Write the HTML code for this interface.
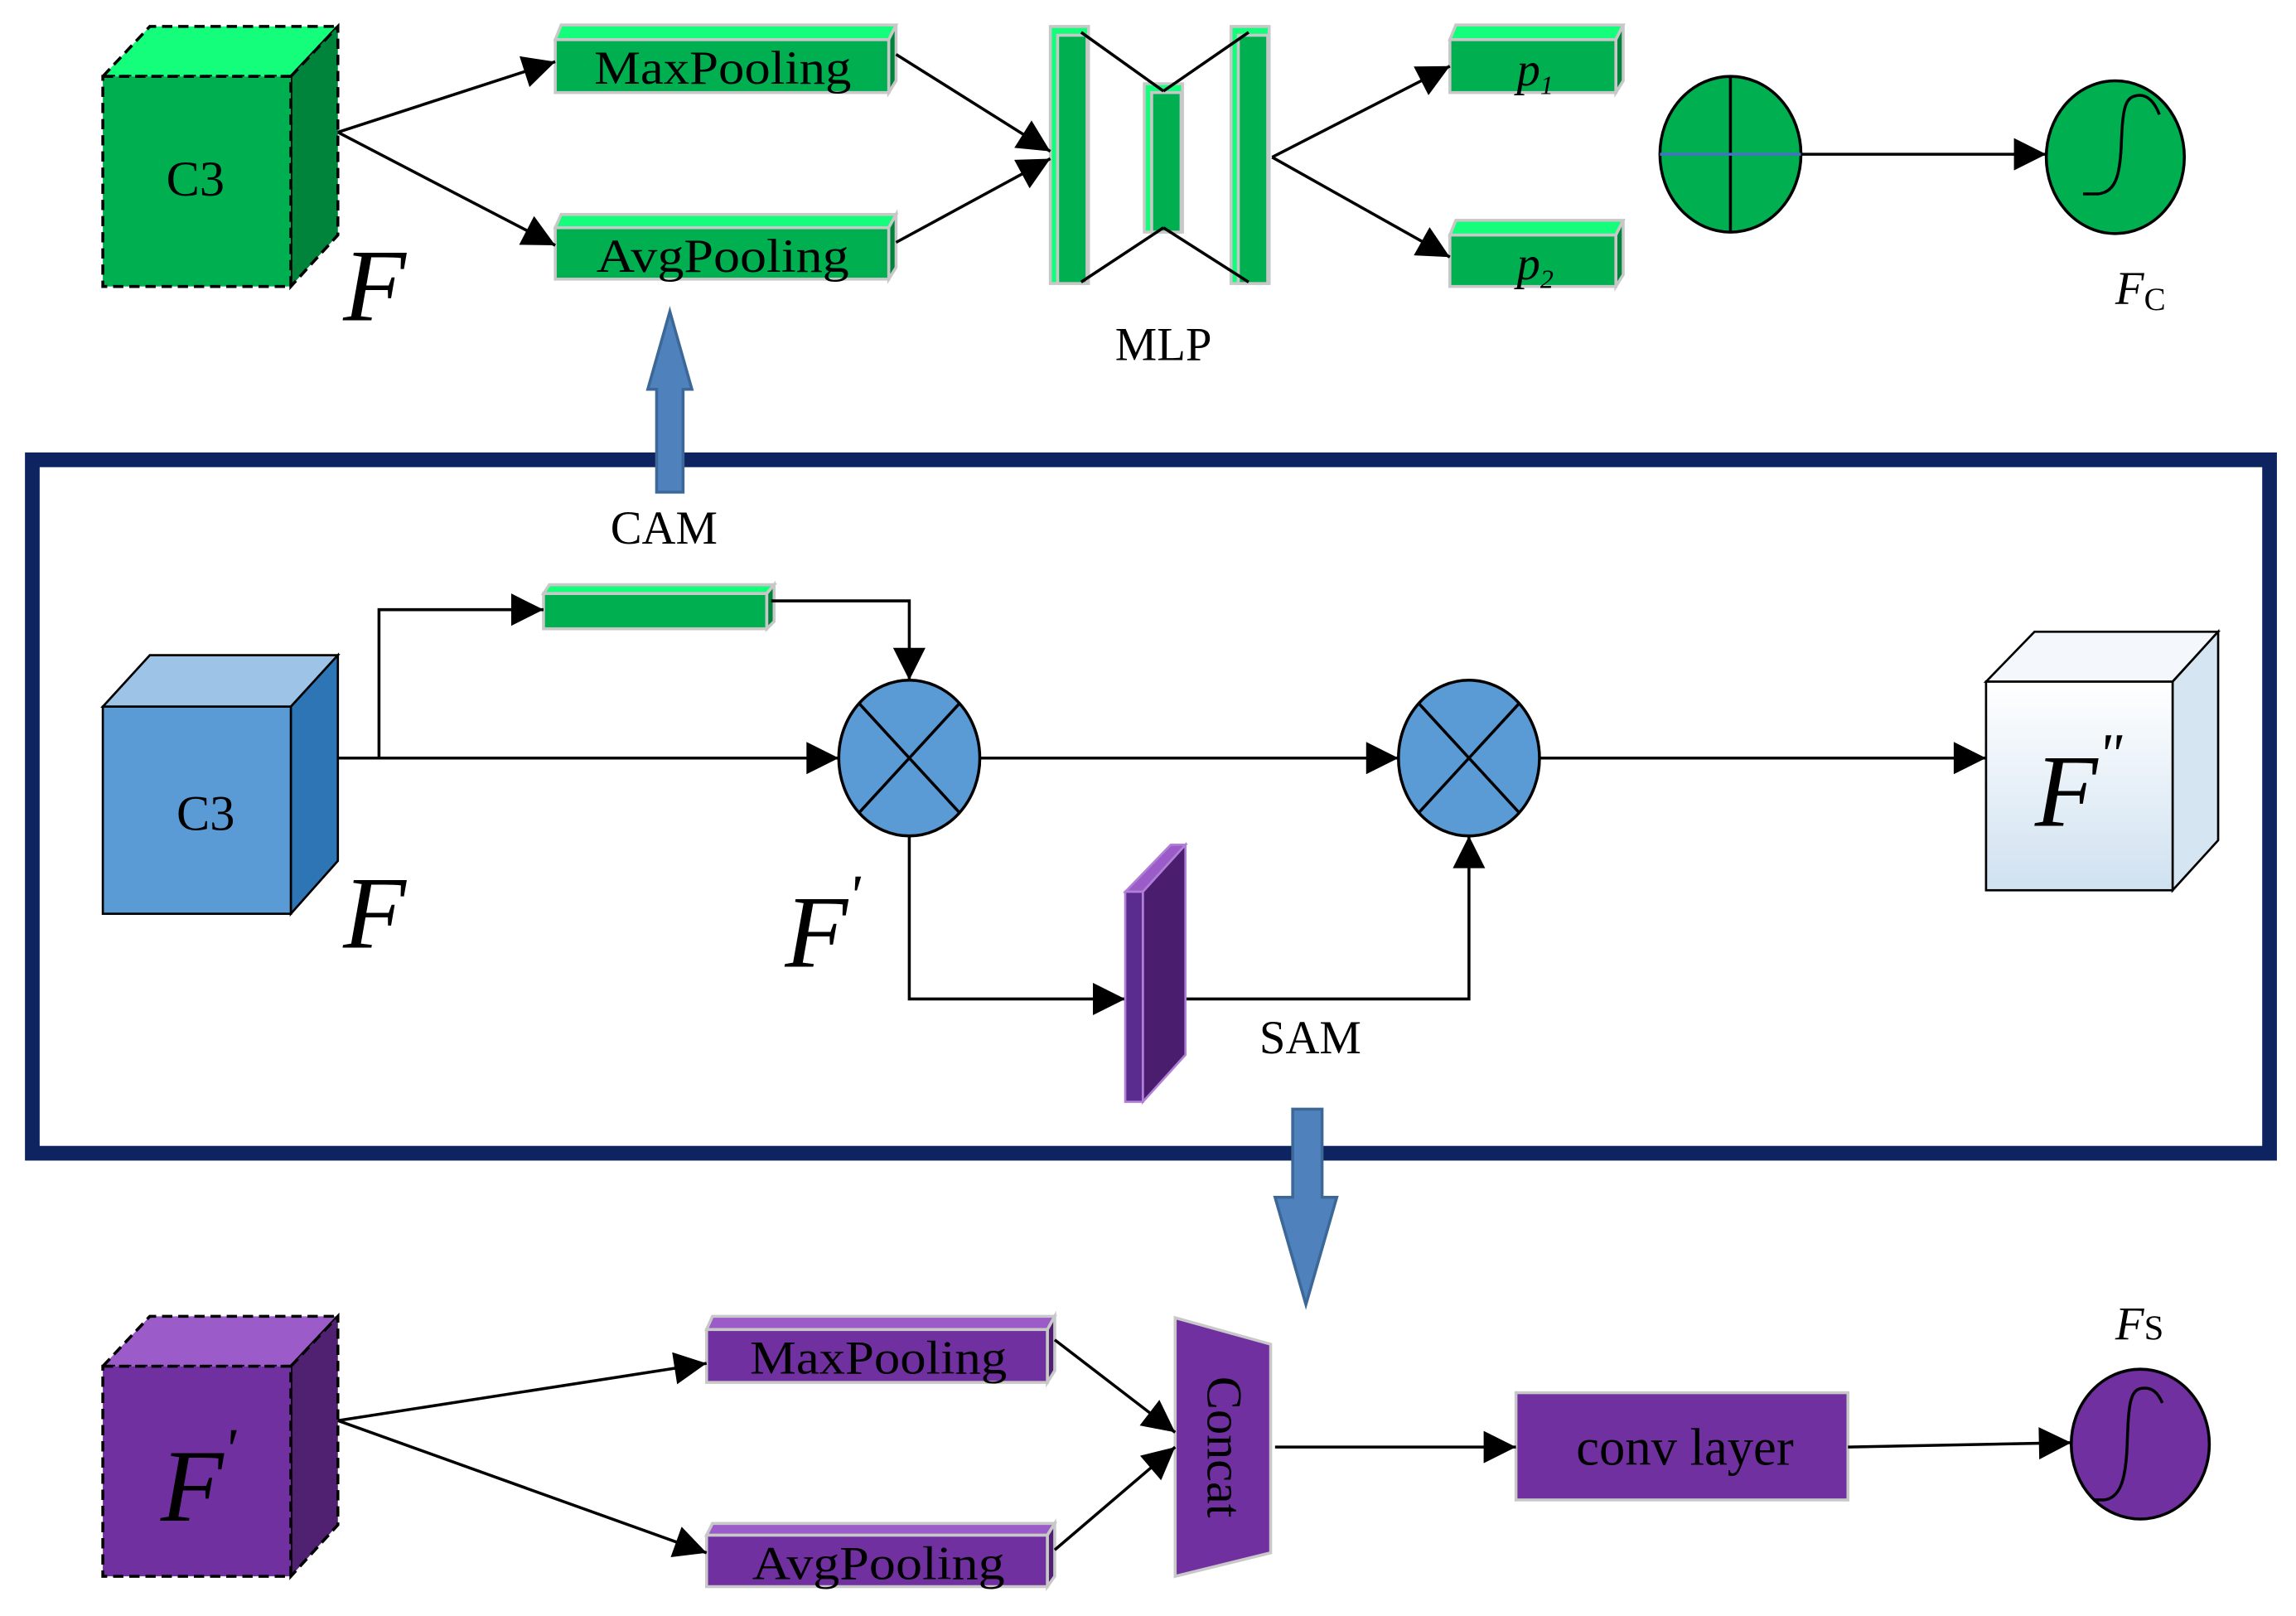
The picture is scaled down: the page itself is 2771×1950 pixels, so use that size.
<!DOCTYPE html>
<html><head><meta charset="utf-8"><style>html,body{margin:0;padding:0;background:#fff}svg{display:block}</style></head><body>
<svg width="2771" height="1950" viewBox="0 0 1563 1100" preserveAspectRatio="none" xmlns="http://www.w3.org/2000/svg" font-family="Liberation Serif, serif">
<defs>
<marker id="ab" viewBox="0 0 10 10" refX="10" refY="5" markerWidth="30" markerHeight="22" markerUnits="userSpaceOnUse" orient="auto"><path d="M0,0L10,5L0,10z" fill="#000"/></marker>
<linearGradient id="gw" x1="0" y1="0" x2="0" y2="1"><stop offset="0" stop-color="#fff"/><stop offset="1" stop-color="#cfe1f0"/></linearGradient>
</defs>
<g stroke="#000" stroke-width="2" fill="none">
<polygon points="70,52 102,18 230,18 198,52" fill="#14fd7b" stroke-dasharray="7,4"/>
<polygon points="198,52 230,18 230,160 198,195" fill="#00843c" stroke-dasharray="7,4"/>
<rect x="70" y="52" width="128" height="143" fill="#00b050" stroke-dasharray="7,4"/>
</g>
<text x="133" y="133" font-size="34" text-anchor="middle">C3</text>
<text x="255" y="218" font-size="70" font-style="italic" text-anchor="middle">F</text>
<g stroke="#c8c8c8" stroke-width="2">
<polygon points="378,27 382,17 610,17 605,27" fill="#14fd7b"/><polygon points="605,27 610,17 610,55 605,63" fill="#00843c"/><rect x="378" y="27" width="227" height="36" fill="#00b050"/>
<polygon points="378,155 382,146 610,146 605,155" fill="#14fd7b"/><polygon points="605,155 610,146 610,182 605,190" fill="#00843c"/><rect x="378" y="155" width="227" height="35" fill="#00b050"/>
<polygon points="987,27 991,17 1105,17 1100,27" fill="#14fd7b"/><polygon points="1100,27 1105,17 1105,55 1100,63" fill="#00843c"/><rect x="987" y="27" width="113" height="36" fill="#00b050"/>
<polygon points="987,160 991,150 1105,150 1100,160" fill="#14fd7b"/><polygon points="1100,160 1105,150 1105,187 1100,195" fill="#00843c"/><rect x="987" y="160" width="113" height="35" fill="#00b050"/>
<rect x="715" y="18" width="26" height="175" fill="#14fd7b"/><rect x="720" y="24" width="20" height="169" fill="#00b050"/>
<rect x="779" y="57" width="26" height="101" fill="#14fd7b"/><rect x="784" y="63" width="20" height="95" fill="#00b050"/>
<rect x="838" y="18" width="26" height="175" fill="#14fd7b"/><rect x="843" y="24" width="20" height="169" fill="#00b050"/>
<rect x="370" y="404" width="152" height="24" fill="#00b050"/><polygon points="370,404 374,398 527,398 522,404" fill="#14fd7b"/><polygon points="522,404 527,398 527,423 522,428" fill="#00843c"/>
</g>
<text x="492" y="57" font-size="32" text-anchor="middle" textLength="175" lengthAdjust="spacingAndGlyphs">MaxPooling</text>
<text x="492" y="185" font-size="32" text-anchor="middle" textLength="172" lengthAdjust="spacingAndGlyphs">AvgPooling</text>
<text x="1045" y="58" font-size="32" font-style="italic" text-anchor="middle">p<tspan font-size="18" dy="6">1</tspan></text>
<text x="1045" y="190" font-size="32" font-style="italic" text-anchor="middle">p<tspan font-size="18" dy="6">2</tspan></text>
<text x="792" y="245" font-size="32" text-anchor="middle">MLP</text>
<g stroke="#000" stroke-width="2" fill="none">
<line x1="230" y1="90" x2="378" y2="42" marker-end="url(#ab)"/>
<line x1="230" y1="90" x2="378" y2="167" marker-end="url(#ab)"/>
<line x1="610" y1="37" x2="715" y2="103" marker-end="url(#ab)"/>
<line x1="610" y1="165" x2="715" y2="108" marker-end="url(#ab)"/>
<line x1="736" y1="22" x2="792" y2="62"/><line x1="792" y1="62" x2="850" y2="22"/>
<line x1="736" y1="192" x2="792" y2="155"/><line x1="792" y1="155" x2="850" y2="192"/>
<line x1="866" y1="107" x2="987" y2="45" marker-end="url(#ab)"/>
<line x1="866" y1="107" x2="987" y2="175" marker-end="url(#ab)"/>
<ellipse cx="1178" cy="105" rx="48" ry="53" fill="#00b050"/>
<line x1="1178" y1="52" x2="1178" y2="158"/>
<line x1="1130" y1="105" x2="1226" y2="105" stroke="#4472c4"/>
<line x1="1226" y1="105" x2="1393" y2="105" marker-end="url(#ab)"/>
<ellipse cx="1440" cy="107" rx="47" ry="52" fill="#00b050"/>
<path d="M1418,132 L1428,132 C1440,131 1443,120 1444,100 C1445,75 1446,66 1455,65 C1462,64 1467,70 1470,78"/>
</g>
<text x="1440" y="207" font-size="32" font-style="italic">F<tspan font-style="normal" font-size="22" dy="4">C</tspan></text>
<rect x="22" y="313" width="1523" height="472" fill="none" stroke="#0d2460" stroke-width="10"/>
<polygon points="447,335 465,335 465,265 471,265 456,212 441,265 447,265" fill="#4f81bd" stroke="#3c6898" stroke-width="2"/>
<text x="452" y="370" font-size="32" text-anchor="middle">CAM</text>
<g stroke="#000" stroke-width="1.5">
<polygon points="70,481 102,446 230,446 198,481" fill="#9dc3e6"/>
<polygon points="198,481 230,446 230,586 198,622" fill="#2e75b6"/>
<rect x="70" y="481" width="128" height="141" fill="#5b9bd5"/>
<polygon points="1352,464 1385,430 1510,430 1479,464" fill="#f4f8fc"/>
<polygon points="1479,464 1510,430 1510,572 1479,606" fill="#d6e5f2"/>
<rect x="1352" y="464" width="127" height="142" fill="url(#gw)"/>
</g>
<text x="140" y="565" font-size="34" text-anchor="middle">C3</text>
<text x="255" y="645" font-size="70" font-style="italic" text-anchor="middle">F</text>
<text x="560" y="658" font-size="70" font-style="italic" text-anchor="middle">F<tspan font-size="40" dy="-35">'</tspan></text>
<text x="1415" y="562" font-size="70" font-style="italic" text-anchor="middle">F<tspan font-size="40" dy="-35">"</tspan></text>
<g stroke="#000" stroke-width="2" fill="none">
<polyline points="258,516 258,415 370,415" marker-end="url(#ab)"/>
<polyline points="525,409 619,409 619,463" marker-end="url(#ab)"/>
<line x1="230" y1="516" x2="571" y2="516" marker-end="url(#ab)"/>
<ellipse cx="619" cy="516" rx="48" ry="53" fill="#5b9bd5"/>
<line x1="585" y1="479" x2="653" y2="553"/><line x1="653" y1="479" x2="585" y2="553"/>
<line x1="667" y1="516" x2="952" y2="516" marker-end="url(#ab)"/>
<ellipse cx="1000" cy="516" rx="48" ry="53" fill="#5b9bd5"/>
<line x1="966" y1="479" x2="1034" y2="553"/><line x1="1034" y1="479" x2="966" y2="553"/>
<line x1="1048" y1="516" x2="1352" y2="516" marker-end="url(#ab)"/>
<polyline points="619,569 619,680 766,680" marker-end="url(#ab)"/>
<polyline points="807,680 1000,680 1000,569" marker-end="url(#ab)"/>
</g>
<g stroke="#b07fd6" stroke-width="1.5">
<polygon points="778,607 807,575 807,718 778,750" fill="#4a1d6e"/>
<polygon points="766,607 797,575 807,575 778,607" fill="#9b5bc9"/>
<rect x="766" y="607" width="12" height="143" fill="#5b2c8f"/>
</g>
<text x="892" y="717" font-size="32" text-anchor="middle">SAM</text>
<polygon points="880,755 900,755 900,815 910,815 889,888 868,815 880,815" fill="#4f81bd" stroke="#3c6898" stroke-width="2"/>
<g stroke="#000" stroke-width="2" stroke-dasharray="7,4">
<polygon points="70,930 102,896 230,896 198,930" fill="#9b5bc9"/>
<polygon points="198,930 230,896 230,1038 198,1073" fill="#4f2170"/>
<rect x="70" y="930" width="128" height="143" fill="#7030a0"/>
</g>
<text x="135" y="1035" font-size="70" font-style="italic" text-anchor="middle">F<tspan font-size="40" dy="-35">'</tspan></text>
<g stroke="#c8c8c8" stroke-width="2">
<polygon points="481,905 485,896 718,896 713,905" fill="#9b5bc9"/><polygon points="713,905 718,896 718,933 713,941" fill="#4f2170"/><rect x="481" y="905" width="232" height="36" fill="#7030a0"/>
<polygon points="481,1045 485,1037 718,1037 713,1045" fill="#9b5bc9"/><polygon points="713,1045 718,1037 718,1073 713,1080" fill="#4f2170"/><rect x="481" y="1045" width="232" height="35" fill="#7030a0"/>
<polygon points="800,897 865,915 865,1057 800,1073" fill="#7030a0"/>
<rect x="1032" y="948" width="226" height="73" fill="#7030a0"/>
</g>
<text x="598" y="935" font-size="32" text-anchor="middle" textLength="175" lengthAdjust="spacingAndGlyphs">MaxPooling</text>
<text x="598" y="1075" font-size="32" text-anchor="middle" textLength="172" lengthAdjust="spacingAndGlyphs">AvgPooling</text>
<text transform="translate(822,985) rotate(90)" font-size="34" text-anchor="middle">Concat</text>
<text x="1147" y="997" font-size="36" text-anchor="middle" textLength="148" lengthAdjust="spacingAndGlyphs">conv layer</text>
<g stroke="#000" stroke-width="2" fill="none">
<line x1="230" y1="967" x2="481" y2="928" marker-end="url(#ab)"/>
<line x1="230" y1="967" x2="481" y2="1057" marker-end="url(#ab)"/>
<line x1="718" y1="912" x2="800" y2="975" marker-end="url(#ab)"/>
<line x1="718" y1="1055" x2="800" y2="985" marker-end="url(#ab)"/>
<line x1="868" y1="985" x2="1032" y2="985" marker-end="url(#ab)"/>
<line x1="1258" y1="985" x2="1410" y2="982" marker-end="url(#ab)"/>
<ellipse cx="1457" cy="983" rx="47" ry="51" fill="#7030a0"/>
<path d="M1425,1021 L1432,1021 C1443,1020 1447,1008 1448,985 C1449,960 1449,946 1458,945 C1465,944 1469,948 1472,955"/>
</g>
<text x="1440" y="912" font-size="32" font-style="italic">F<tspan font-style="normal" font-size="24">S</tspan></text>
</svg>
</body></html>
